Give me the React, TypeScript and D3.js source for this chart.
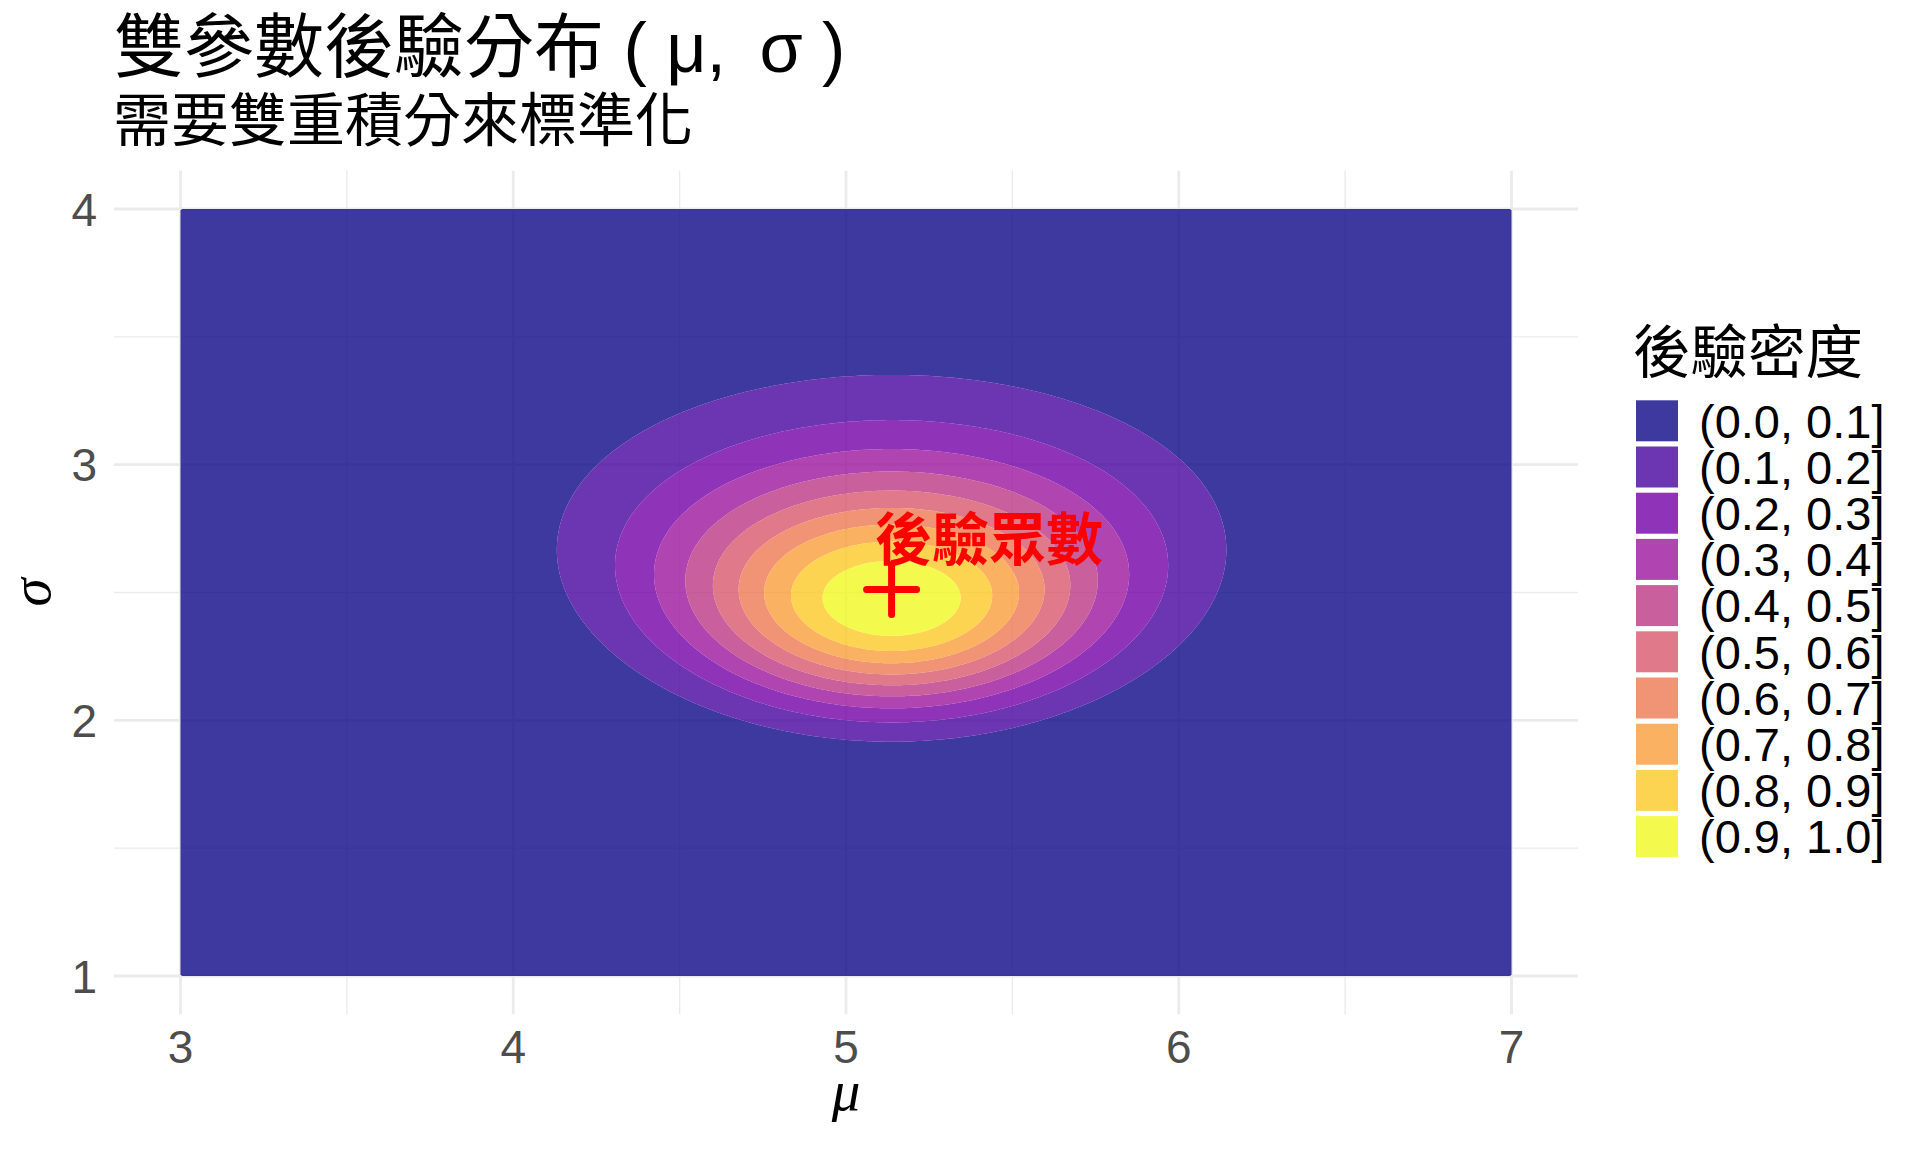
import React from "react";
import * as d3 from "d3";

// ---- data ----
const sampleSize = 30; // n observations
const sampleMean = 5.137; // x̄
const sampleSd = 2.512; // s (n-1 denominator)
const muDomain = [3, 7];
const sigmaDomain = [1, 4];
const xTicks = [3, 4, 5, 6, 7];
const yTicks = [1, 2, 3, 4];
const xMinorTicks = [3.5, 4.5, 5.5, 6.5];
const yMinorTicks = [1.5, 2.5, 3.5];
const levelBreaks = [0, 0.1, 0.2, 0.3, 0.4, 0.5, 0.6, 0.7, 0.8, 0.9];
const levelLabels = [
  "(0.0, 0.1]",
  "(0.1, 0.2]",
  "(0.2, 0.3]",
  "(0.3, 0.4]",
  "(0.4, 0.5]",
  "(0.5, 0.6]",
  "(0.6, 0.7]",
  "(0.7, 0.8]",
  "(0.8, 0.9]",
  "(0.9, 1.0]",
];
const levelColors = [
  "#0D0887",
  "#47039F",
  "#7301A8",
  "#9C179E",
  "#BD3786",
  "#D8576B",
  "#ED7953",
  "#FA9E3B",
  "#FDC926",
  "#F0F921",
];
const titleParts = ["雙參數後驗分布 ( μ,", " σ )"];
const subtitleText = "需要雙重積分來標準化";
const legendTitle = "後驗密度";
const modeLabel = "後驗眾數";

const W = 1920;
const H = 1152;
const GRID_NX = 400;
const GRID_NY = 300;

const CJK = "'Noto Sans CJK TC', 'Noto Sans CJK SC', sans-serif";
const SANS = "'Liberation Sans', Arial, 'Noto Sans CJK TC', sans-serif";

export default function App() {
  const xScale = d3.scaleLinear().domain(muDomain).range([180.5, 1511.5]);
  const yScale = d3.scaleLinear().domain(sigmaDomain).range([976, 209]);
  const xExp = (muDomain[1] - muDomain[0]) * 0.05;
  const yExp = (sigmaDomain[1] - sigmaDomain[0]) * 0.05;
  const panelL = xScale(muDomain[0] - xExp);
  const panelR = xScale(muDomain[1] + xExp);
  const panelT = yScale(sigmaDomain[1] + yExp);
  const panelB = yScale(sigmaDomain[0] - yExp);

  // posterior density on a grid (flat prior), normalised to max 1
  const dMu = (muDomain[1] - muDomain[0]) / GRID_NX;
  const dSig = (sigmaDomain[1] - sigmaDomain[0]) / GRID_NY;
  const ss = (sampleSize - 1) * sampleSd * sampleSd;
  const logp = new Float64Array(GRID_NX * GRID_NY);
  let maxLog = -Infinity;
  for (let j = 0; j < GRID_NY; j++) {
    const sig = sigmaDomain[0] + (j + 0.5) * dSig;
    for (let i = 0; i < GRID_NX; i++) {
      const mu = muDomain[0] + (i + 0.5) * dMu;
      const v =
        -sampleSize * Math.log(sig) -
        (ss + sampleSize * (mu - sampleMean) * (mu - sampleMean)) / (2 * sig * sig);
      logp[j * GRID_NX + i] = v;
      if (v > maxLog) maxLog = v;
    }
  }
  const values = Array.from(logp, (v) => Math.exp(v - maxLog));
  const contours = d3.contours().size([GRID_NX, GRID_NY]).thresholds(levelBreaks)(values);
  const proj = d3.geoTransform({
    point(x: number, y: number) {
      (this as any).stream.point(
        xScale(muDomain[0] + x * dMu),
        yScale(sigmaDomain[0] + y * dSig)
      );
    },
  });
  const path = d3.geoPath(proj);
  const bandPaths = contours.map((c, i) => {
    const outer = path(c as any) || "";
    const inner = i + 1 < contours.length ? path(contours[i + 1] as any) || "" : "";
    return outer + inner;
  });

  const gridColor = "#EBEBEB";
  const legendX = 1636;
  const keyTop = 400.3;
  const keyPitch = 46.2;
  const keyW = 42;
  const keyH = 41;

  const mx = xScale(sampleMean);
  const my = yScale(sampleSd);

  return (
    <svg
      width={W}
      height={H}
      viewBox={`0 0 ${W} ${H}`}
      style={{ display: "block", position: "absolute", left: 0, top: 0 }}
    >
      <rect x={0} y={0} width={W} height={H} fill="#FFFFFF" />
      {/* grid */}
      <g>
        {xMinorTicks.map((t) => (
          <line key={"xm" + t} x1={xScale(t)} x2={xScale(t)} y1={panelT} y2={panelB} stroke={gridColor} strokeWidth={1.4} />
        ))}
        {yMinorTicks.map((t) => (
          <line key={"ym" + t} x1={panelL} x2={panelR} y1={yScale(t)} y2={yScale(t)} stroke={gridColor} strokeWidth={1.4} />
        ))}
        {xTicks.map((t) => (
          <line key={"xM" + t} x1={xScale(t)} x2={xScale(t)} y1={panelT} y2={panelB} stroke={gridColor} strokeWidth={2.8} />
        ))}
        {yTicks.map((t) => (
          <line key={"yM" + t} x1={panelL} x2={panelR} y1={yScale(t)} y2={yScale(t)} stroke={gridColor} strokeWidth={2.8} />
        ))}
      </g>
      {/* filled contour bands */}
      <g>
        {bandPaths.map((d, i) => (
          <path key={"b" + i} d={d} fill={levelColors[i]} fillOpacity={0.8} fillRule="evenodd" stroke="none" />
        ))}
      </g>
      {/* mode marker */}
      <g stroke="#FF0000" strokeWidth={7} strokeLinecap="round">
        <line x1={mx - 25} x2={mx + 25} y1={my} y2={my} />
        <line x1={mx} x2={mx} y1={my - 25} y2={my + 25} />
      </g>
      <text
        x={xScale(sampleMean - 0.05)}
        y={yScale(sampleSd + 0.1) - 4}
        fill="#FF0000"
        fontFamily={CJK}
        fontWeight={700}
        fontSize={57}
      >
        {modeLabel}
      </text>
      {/* axis tick labels */}
      <g fontFamily={SANS} fontSize={46} fill="#4D4D4D">
        {xTicks.map((t) => (
          <text key={"xl" + t} x={xScale(t)} y={1063} textAnchor="middle">
            {t}
          </text>
        ))}
        {yTicks.map((t) => (
          <text key={"yl" + t} x={97} y={yScale(t) + 16.5} textAnchor="end">
            {t}
          </text>
        ))}
      </g>
      {/* axis titles */}
      <text
        x={(xScale(muDomain[0]) + xScale(muDomain[1])) / 2}
        y={1110}
        textAnchor="middle"
        fontFamily="'Liberation Serif', 'DejaVu Serif', serif"
        fontStyle="italic"
        fontSize={57}
        fill="#000"
      >
        μ
      </text>
      <text
        transform={`translate(50, ${(panelT + panelB) / 2}) rotate(-90)`}
        textAnchor="middle"
        fontFamily="'Liberation Serif', 'DejaVu Serif', serif"
        fontStyle="italic"
        fontSize={57}
        fill="#000"
      >
        σ
      </text>
      {/* titles */}
      <text x={114} y={72} fontFamily={SANS} fontSize={70} fill="#000">
        <tspan>{titleParts[0]}</tspan>
        <tspan dx={14}>{titleParts[1]}</tspan>
      </text>
      <text x={113} y={141} fontFamily={CJK} fontSize={58} fill="#000">
        {subtitleText}
      </text>
      {/* legend */}
      <text x={1633} y={373} fontFamily={CJK} fontSize={57.5} fill="#000">
        {legendTitle}
      </text>
      {levelLabels.map((lab, i) => (
        <g key={"lg" + i}>
          <rect
            x={legendX}
            y={keyTop + i * keyPitch}
            width={keyW}
            height={keyH}
            fill={levelColors[i]}
            fillOpacity={0.8}
          />
          <text
            x={1699}
            y={keyTop + i * keyPitch + keyH / 2 + 16.8}
            fontFamily={SANS}
            fontSize={47}
            fill="#000"
          >
            {lab}
          </text>
        </g>
      ))}
    </svg>
  );
}
